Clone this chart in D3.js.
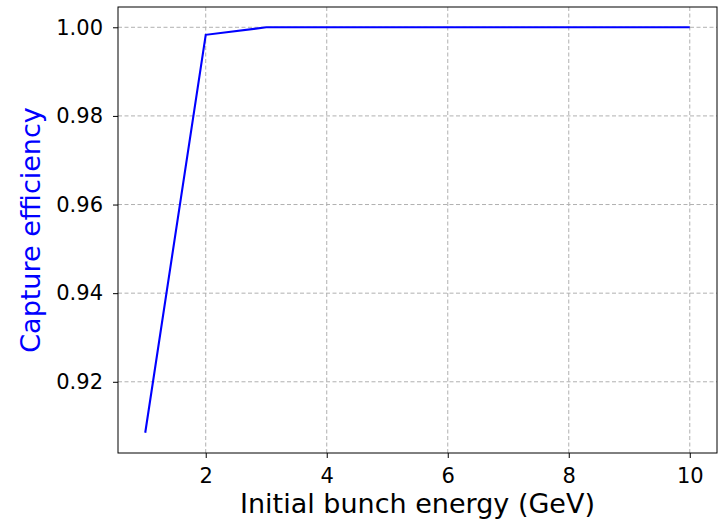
<!DOCTYPE html>
<html><head><meta charset="utf-8">
<script src="https://cdn.jsdelivr.net/npm/d3@7"></script>
<style>body{margin:0;background:#fff;} text{font-family:"DejaVu Sans",sans-serif;}</style>
</head><body>
<svg id="c" width="719" height="521"></svg>
<script>
const energies = [1,2,3,4,5,6,7,8,9,10];
const efficiency = [0.9085,0.9983,1,1,1,1,1,1,1,1];
const xTicks = [2,4,6,8,10];
const yTicks = [0.92,0.94,0.96,0.98,1.00];

const svg = d3.select("#c");
const L=118, R=717, T=7, B=453;
const x = d3.scaleLinear().domain([0.55,10.45]).range([L,R]);
const y = d3.scaleLinear().domain([0.90393,1.00458]).range([B,T]);

const g = svg.append("g");
g.selectAll(".gx").data(xTicks).enter().append("line")
 .attr("x1",d=>x(d)).attr("x2",d=>x(d)).attr("y1",T).attr("y2",B)
 .attr("stroke","#b0b0b0").attr("stroke-width",1).attr("stroke-dasharray","4,2.5");
g.selectAll(".gy").data(yTicks).enter().append("line")
 .attr("y1",d=>y(d)).attr("y2",d=>y(d)).attr("x1",L).attr("x2",R)
 .attr("stroke","#b0b0b0").attr("stroke-width",1).attr("stroke-dasharray","4,2.5");

svg.append("path").datum(energies.map((e,i)=>[e,efficiency[i]]))
 .attr("d",d3.line().x(d=>x(d[0])).y(d=>y(d[1])))
 .attr("fill","none").attr("stroke","#0000ff").attr("stroke-width",2.1);

const xa = svg.append("g").attr("transform",`translate(0,${B})`)
 .call(d3.axisBottom(x).tickValues(xTicks).tickFormat(d3.format("d")).tickSize(5).tickPadding(10));
const ya = svg.append("g").attr("transform",`translate(${L},0)`)
 .call(d3.axisLeft(y).tickValues(yTicks).tickFormat(d3.format(".2f")).tickSize(5).tickPadding(10));
[xa,ya].forEach(a=>{a.select(".domain").remove();a.selectAll("text").attr("font-size",21).attr("fill","#000").style("font-family","DejaVu Sans");a.selectAll("line").attr("stroke","#000").attr("stroke-width",1);});

svg.append("rect").attr("x",L).attr("y",T).attr("width",R-L).attr("height",B-T)
 .attr("fill","none").attr("stroke","#000").attr("stroke-width",1);

svg.append("text").attr("x",(L+R)/2).attr("y",513).attr("text-anchor","middle")
 .attr("font-size",27).attr("fill","#000").text("Initial bunch energy (GeV)");
svg.append("text").attr("transform",`translate(40,${(T+B)/2}) rotate(-90)`).attr("text-anchor","middle")
 .attr("font-size",27).attr("fill","#0000ff").text("Capture efficiency");
</script>
</body></html>
